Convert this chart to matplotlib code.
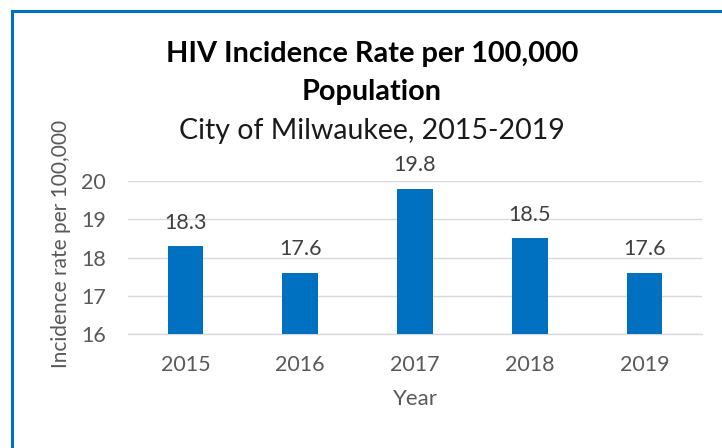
import matplotlib
matplotlib.use("Agg")
import matplotlib.pyplot as plt
from matplotlib.patches import Rectangle

years = ["2015", "2016", "2017", "2018", "2019"]
rates = [18.3, 17.6, 19.8, 18.5, 17.6]
yticks = [16, 17, 18, 19, 20]

plt.rcParams['font.family'] = ['Lato', 'DejaVu Sans']

W, H = 722, 448
fig = plt.figure(figsize=(W/100, H/100), dpi=100)
ax = fig.add_axes([128/W, 1-334/H, (702-128)/W, (334-181)/H])

x = range(len(years))
ax.bar(x, rates, width=0.31, color='#0070C0', zorder=3)
ax.set_ylim(16, 20)
ax.set_xlim(-0.5, len(years)-0.5)
ax.set_yticks(yticks)
ax.set_xticks(list(x))
ax.set_xticklabels(years)
ax.grid(axis='y', color='#D9D9D9', linewidth=1, zorder=0)
for s in ['top', 'right', 'left']:
    ax.spines[s].set_visible(False)
ax.spines['bottom'].set_color('#D9D9D9')
ax.spines['bottom'].set_linewidth(1)
ax.tick_params(axis='both', length=0, labelsize=15.5, colors='#595959')
ax.tick_params(axis='x', pad=15)
ax.tick_params(axis='y', pad=16)

for xi, v in zip(x, rates):
    ax.annotate(f"{v}", (xi, v), xytext=(0, 12.5), textcoords='offset points',
                ha='center', va='baseline', fontsize=15.5, color='#404040')

fig.text(372/W, 1-62/H, "HIV Incidence Rate per 100,000", ha='center', va='baseline',
         fontsize=20.8, fontweight='bold', color='black')
fig.text(372/W, 1-100/H, "Population", ha='center', va='baseline',
         fontsize=20.8, fontweight='bold', color='black')
fig.text(372/W, 1-139/H, "City of Milwaukee, 2015-2019", ha='center', va='baseline',
         fontsize=20.5, color='#1a1a1a')
fig.text(61/W, 1-244/H, "Incidence rate per 100,000", rotation=90, ha='center', va='center',
         fontsize=15, color='#595959')
fig.text(415/W, 1-405/H, "Year", ha='center', va='baseline', fontsize=16, color='#595959')

fig.patches.append(Rectangle((11.5/W, -0.1), 1.2, 1-11/H+0.1, transform=fig.transFigure,
                             fill=False, edgecolor='#0070C0', linewidth=2.2))

fig.savefig("out.png", dpi=100)
